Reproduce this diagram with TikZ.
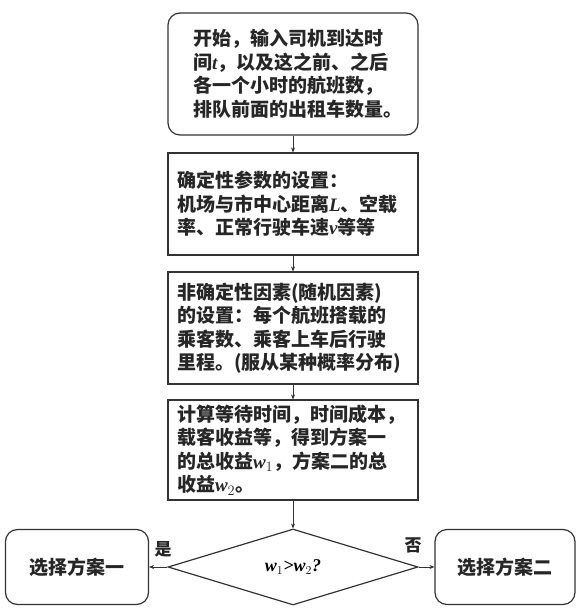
\documentclass[tikz,border=0pt]{standalone}
\usepackage{fontspec}
\newfontfamily\cjk{Noto Sans CJK SC}
\newfontfamily\varfont{Liberation Serif}
\newcommand{\var}[1]{{\varfont\bfseries\itshape #1}}
\usetikzlibrary{shapes.geometric, arrows.meta, positioning}

\tikzset{
  box/.style={draw=black!80, line width=1.2pt, minimum width=250pt, align=left,
    font=\cjk\bfseries\fontsize{19}{23.5}\selectfont, text=black!85, inner xsep=9pt},
  startbox/.style={box, rounded corners=12pt},
  endbox/.style={box, rounded corners=12pt, align=center, minimum height=75pt},
  decide/.style={diamond, draw=black!80, line width=1.2pt, inner sep=0pt,
    minimum width=250pt, minimum height=76pt, font=\fontsize{18}{20}\selectfont},
  flow/.style={-{Stealth[length=5pt,width=4pt]}, line width=0.6pt, black!80},
  lbl/.style={font=\cjk\bfseries\fontsize{17}{20}\selectfont, text=black!85}
}

\begin{document}
\begin{tikzpicture}[x=1pt, y=-1pt]
\useasboundingbox (0,0) rectangle (582,608);

% Steps
\node[startbox, minimum height=122pt, text width=200pt, inner xsep=25pt] (start) at (293,74)
  {开始，输入司机到达时\\间\var{t}，以及这之前、之后\\各一个小时的航班数，\\排队前面的出租车数量。};
\node[box, minimum height=102pt, text width=232pt] (setfix) at (293,204)
  {确定性参数的设置：\\机场与市中心距离\var{L}、空载\\率、正常行驶车速\var{v}等等};
\node[box, minimum height=112pt, text width=232pt] (setrand) at (293,328)
  {非确定性因素(随机因素)\\的设置：每个航班搭载的\\乘客数、乘客上车后行驶\\里程。(服从某种概率分布)};
\node[box, minimum height=100pt, text width=232pt] (calc) at (293,450)
  {计算等待时间，时间成本，\\载客收益等，得到方案一\\的总收益\var{w}$_1$，方案二的总\\收益\var{w}$_2$。};

% Decision
\node[decide] (cond) at (293,567) {\var{w}$_1$\var{>}\var{w}$_2$\var{?}};
\node[endbox, minimum width=143pt] (planA) at (77,567) {选择方案一};
\node[endbox, minimum width=140pt] (planB) at (505,567) {选择方案二};

% Arrows
\draw[flow] (start) -- (setfix);
\draw[flow] (setfix) -- (setrand);
\draw[flow] (setrand) -- (calc);
\draw[flow] (calc) -- (cond);
\draw[flow] (cond.west) -- (planA);
\draw[flow] (cond.east) -- (planB);

% Branch labels
\node[lbl] (yes) at (163,549) {是};
\node[lbl] (no) at (413,545) {否};
\end{tikzpicture}
\end{document}
